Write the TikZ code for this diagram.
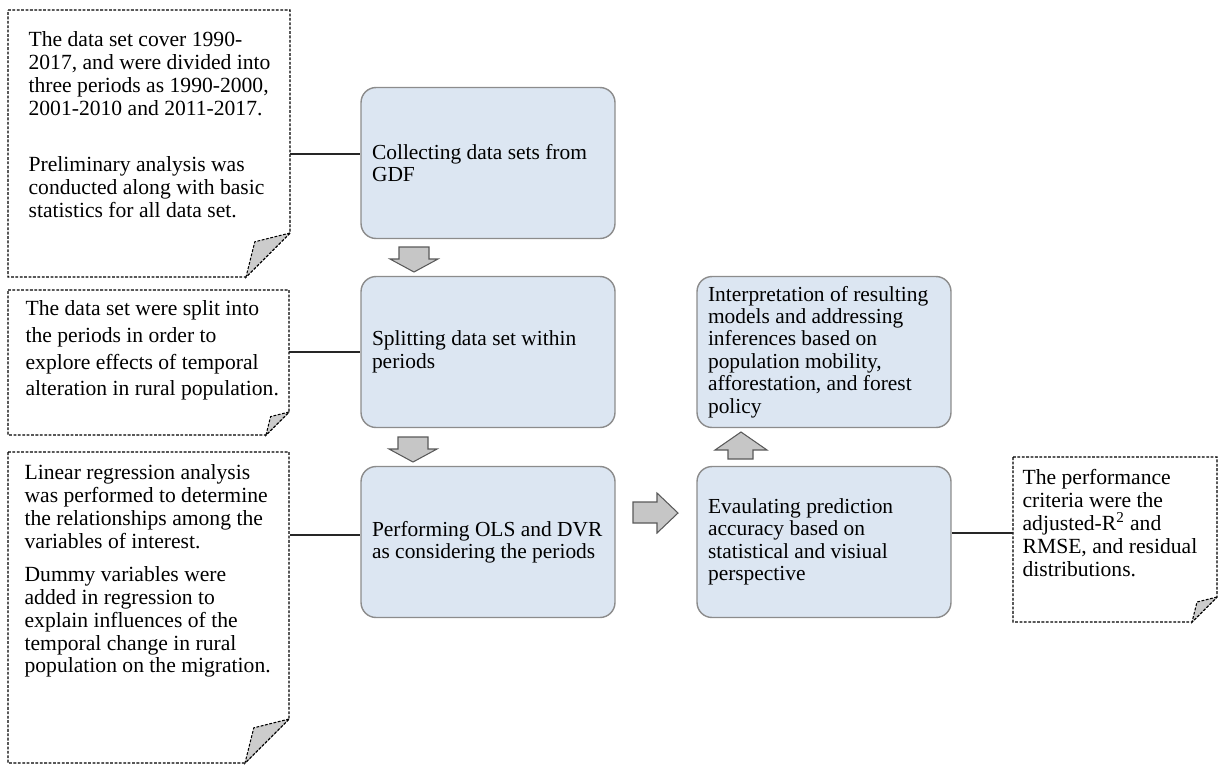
\documentclass[tikz,border=0pt]{standalone}
\usepackage{fontspec}
\setmainfont{Liberation Serif}
\definecolor{boxblue}{HTML}{DCE6F2}
\definecolor{boxline}{HTML}{8C8C8C}
\definecolor{arrline}{HTML}{595959}

\begin{document}
\begin{tikzpicture}[x=0.02cm,y=-0.02cm,line width=0.7pt,
  stage/.style={draw=boxline,fill=boxblue,line width=0.8pt,rounded corners=0.3cm,
    minimum width=5.08cm,minimum height=3.02cm,inner xsep=0.22cm,text width=4.64cm,
    align=flush left,font=\fontsize{12.2}{12.8}\selectfont},
  notetxt/.style={anchor=north west,inner sep=0pt,align=flush left,font=\fontsize{12.3}{13}\selectfont},
  notefrm/.style={line width=0.6pt,dash pattern=on 1.6pt off 0.9pt},
  flap/.style={notefrm,fill=gray!40},
  blockarr/.style={draw=arrline,fill=gray!45,line width=0.6pt,line join=miter},
  link/.style={draw=black!85,line width=0.7pt}]
\useasboundingbox (0,0) rectangle (1219,765);
% ---------- note frames with folded corner ----------
\foreach \xa/\ya/\xb/\yb/\f in {8/10/290/277/44,8/290/289/435/23,8/452/289/763/44,1013/457/1217/622/25}{
  \draw[notefrm] (\xa,\ya) -- (\xb,\ya) -- (\xb,\yb-\f) -- (\xb-\f,\yb) -- (\xa,\yb) -- cycle;
  \filldraw[flap] (\xb,\yb-\f) -- (\xb-0.8*\f,\yb-0.8*\f) -- (\xb-\f,\yb) -- cycle;
}
% ---------- note texts ----------
\node[notetxt] (t1) at (28,31) {The data set cover 1990-\\2017, and were divided into\\three periods as 1990-2000,\\2001-2010 and 2011-2017.\\[19pt]Preliminary analysis was\\conducted along with basic\\statistics for all data set.};
\node[notetxt,font=\fontsize{12.3}{15.2}\selectfont] (t2) at (25,300) {The data set were split into\\the periods in order to\\explore effects of temporal\\alteration in rural population.};
\node[notetxt] (t3) at (24,464) {Linear regression analysis\\was performed to determine\\the relationships among the\\variables of interest.\\[6pt]Dummy variables were\\added in regression to\\explain influences of the\\temporal change in rural\\population on the migration.};
\node[notetxt] (t4) at (1022,469) {The performance\\criteria were the\\adjusted-R\textsuperscript{2} and\\RMSE, and residual\\distributions.};
% ---------- process boxes ----------
\node[stage] (collect) at (488,163) {Collecting data sets from\\GDF};
\node[stage] (split) at (488,352) {Splitting data set within\\periods};
\node[stage] (perform) at (488,542) {Performing OLS and DVR\\as considering the periods};
\node[stage] (interp) at (824,352) {Interpretation of resulting\\models and addressing\\inferences based on\\population mobility,\\afforestation, and forest\\policy};
\node[stage] (evaluate) at (824,542) {Evaulating prediction\\accuracy based on\\statistical and visiual\\perspective};
% ---------- connectors between notes and boxes ----------
\coordinate (p1) at (290,154);
\coordinate (p2) at (289,352);
\coordinate (p3) at (290,535);
\coordinate (p4) at (1013,533);
\draw[link] (p1) -- (p1 -| collect.west);
\draw[link] (p2) -- (p2 -| split.west);
\draw[link] (p3) -- (p3 -| perform.west);
\draw[link] (p4 -| evaluate.east) -- (p4);
% ---------- block arrows ----------
\foreach \cx/\ty in {414/247,413/437}{
  \draw[blockarr] (\cx-15,\ty) -- (\cx+15,\ty) -- (\cx+15,\ty+12) -- (\cx+24,\ty+12)
    -- (\cx,\ty+25) -- (\cx-24,\ty+12) -- (\cx-15,\ty+12) -- cycle;
}
\draw[blockarr] (633,502) -- (657,502) -- (657,493) -- (678,513) -- (657,533) -- (657,523) -- (633,523) -- cycle;
\draw[blockarr] (728,459) -- (728,450) -- (715,450) -- (741,432) -- (767,450) -- (753,450) -- (753,459) -- cycle;
\end{tikzpicture}
\end{document}
